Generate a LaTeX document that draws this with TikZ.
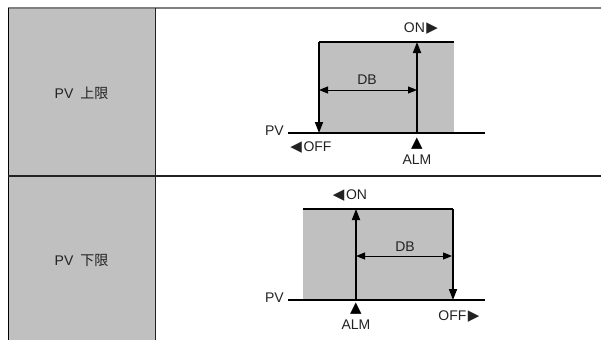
\documentclass[tikz,border=0pt]{standalone}
\usepackage{fontspec}
\setmainfont{Liberation Sans}
\newfontfamily\jpfont{Noto Sans CJK JP}
\newfontfamily\symfont{DejaVu Sans}
\usetikzlibrary{arrows.meta}
\definecolor{cellgray}{HTML}{C0C0C0}
\definecolor{ink}{HTML}{222222}
\newcommand{\trisize}{\symfont\fontsize{15}{16}\selectfont}
\begin{document}
\begin{tikzpicture}[x=1pt,y=-1pt,
  lbl/.style={font=\fontsize{14}{16}\selectfont, text=ink, inner sep=0pt},
  sym/.style={font=\trisize, text=black, inner sep=0pt},
  heavy/.style={line width=1.7pt, black},
  bigarrow/.style={heavy, -{Triangle[length=11pt,width=8pt]}},
  dbarrow/.style={line width=1pt, black, {Triangle[length=9pt,width=7pt]}-{Triangle[length=9pt,width=7pt]}},
  band/.style={fill=cellgray, draw=none}]
\useasboundingbox (0,0) rectangle (601,340);
% table
\fill[cellgray] (8,8) rectangle (155,340);
\draw[line width=1.5pt, color=gray] (8,8) -- (601,8);
\draw[line width=1pt, black] (8,8) -- (8,340);
\draw[line width=1.8pt, color=ink] (155.5,8) -- (155.5,340);
\draw[line width=1.4pt, color=ink] (8,176) -- (601,176);
\node[lbl] (rowA) at (81.5,93) {PV\hspace{7pt}{\jpfont 上限}};
\node[lbl] (rowB) at (81.5,260) {PV\hspace{7pt}{\jpfont 下限}};
% upper diagram
\coordinate (a-tl) at (319,42);
\coordinate (a-tr) at (454,42);
\coordinate (a-bl) at (319,133);
\coordinate (a-at) at (417,42);
\coordinate (a-ab) at (417,133);
\coordinate (a-pl) at (288,133);
\coordinate (a-pr) at (485,133);
\coordinate (a-dl) at (319,90);
\coordinate (a-dr) at (417,90);
\fill[band] (a-tl) rectangle (a-ab -| a-tr);
\draw[heavy] (a-tl) -- (a-tr);
\draw[heavy] (a-pl) -- (a-pr);
\draw[bigarrow] (a-tl) -- (a-bl);
\draw[bigarrow] (a-ab) -- (a-at);
\draw[dbarrow] (a-dl) -- (a-dr);
\node[lbl] (a-db) at (367,80) {DB};
\node[lbl, anchor=east] (a-pv) at (284,131) {PV};
\node[lbl] (a-on) at (421,29) {ON\kern1.5pt{\trisize ▶}};
\node[lbl] (a-off) at (311,148) {{\trisize ◀}\kern1.5pt OFF};
\node[sym] (a-tri) at (417,144) {▲};
\node[lbl] (a-alm) at (417,160) {ALM};
% lower diagram
\coordinate (b-tl) at (303,209);
\coordinate (b-tr) at (453,209);
\coordinate (b-br) at (453,300);
\coordinate (b-at) at (356,209);
\coordinate (b-ab) at (356,300);
\coordinate (b-pl) at (288,300);
\coordinate (b-pr) at (485,300);
\coordinate (b-dl) at (356,256);
\coordinate (b-dr) at (452,256);
\fill[band] (b-tl) rectangle (b-br);
\draw[heavy] (b-tl) -- (b-tr);
\draw[heavy] (b-pl) -- (b-pr);
\draw[bigarrow] (b-ab) -- (b-at);
\draw[bigarrow] (b-tr) -- (b-br);
\draw[dbarrow] (b-dl) -- (b-dr);
\node[lbl] (b-db) at (405,247) {DB};
\node[lbl, anchor=east] (b-pv) at (284,298) {PV};
\node[lbl] (b-on) at (350,196) {{\trisize ◀}\kern1.5pt ON};
\node[lbl] (b-off) at (459,317) {OFF\kern1.5pt{\trisize ▶}};
\node[sym] (b-tri) at (356,309) {▲};
\node[lbl] (b-alm) at (356,325) {ALM};
\end{tikzpicture}
\end{document}
